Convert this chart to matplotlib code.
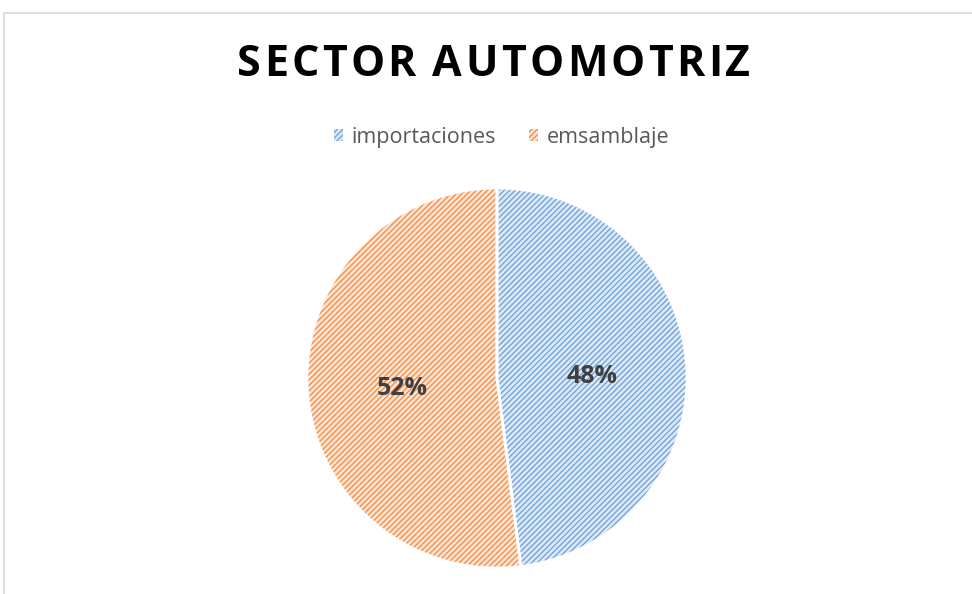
import numpy as np
import matplotlib.pyplot as plt
from matplotlib.patches import Rectangle

# ======== data ========
labels = ["importaciones", "emsamblaje"]
values = [48, 52]
title = "SECTOR AUTOMOTRIZ"

fill_colors = ["#dce8f6", "#fde3d0"]
hatch_colors = ["#6aa0da", "#f08a45"]

plt.rcParams['font.family'] = ['Open Sans', 'DejaVu Sans']
plt.rcParams['hatch.linewidth'] = 0.9

fig = plt.figure(figsize=(9.72, 5.94), dpi=100)
W, H = 972, 594

# chart frame
fig.patches.append(Rectangle((4 / W, -0.1), 1.2, 1.1 - 13 / H, transform=fig.transFigure,
                             fill=False, edgecolor="#d9d9d9", linewidth=1.2))

# pie axes: centre (497, 378), radius 190 px
cx, cy, r = 497, 378, 190
ax = fig.add_axes([(cx - r) / W, 1 - (cy + r) / H, 2 * r / W, 2 * r / H])

wedges, _ = ax.pie(values, startangle=90, counterclock=False, radius=1,
                   colors=fill_colors)
for w, hc in zip(wedges, hatch_colors):
    w.set_hatch("//////")
    w.set_edgecolor(hc)
    w.set_linewidth(0)
# white separators
ax.pie(values, startangle=90, counterclock=False, radius=1,
       wedgeprops=dict(fill=False, edgecolor="white", linewidth=2))
ax.set_xlim(-1, 1)
ax.set_ylim(-1, 1)
ax.axis("off")

# percent labels
start = 90.0
for v in values:
    mid = start - v / 100 * 360 / 2
    x, y = 0.5 * np.cos(np.radians(mid)), 0.5 * np.sin(np.radians(mid)) - 0.025
    ax.text(x, y, f"{v}%", ha="center", va="center", fontsize=18,
            fontweight="bold", color="#404040")
    start -= v / 100 * 360

# title with letter spacing: place characters one by one
renderer = fig.canvas.get_renderer()
tprops = dict(fontsize=31, fontweight="bold", color="black", va="center", ha="left")
left, right = 237, 750
widths = []
for ch in title:
    if ch == " ":
        widths.append(10)
        continue
    t = fig.text(0, 0, ch, **tprops)
    widths.append(t.get_window_extent(renderer).width)
    t.remove()
gap = (right - left - sum(widths)) / (len(title) - 1)
xpos = left
for ch, wd in zip(title, widths):
    if ch != " ":
        fig.text(xpos / W, 1 - 65 / H, ch, **tprops)
    xpos += wd + gap

leg = fig.legend(wedges, labels, loc="center", bbox_to_anchor=(0.516, 1 - 137 / H),
                 ncol=2, frameon=False, fontsize=15.5, handlelength=0.45, handleheight=0.45,
                 handletextpad=0.4, columnspacing=1.5)
for t in leg.get_texts():
    t.set_color("#595959")

fig.savefig("out.png", dpi=100)
